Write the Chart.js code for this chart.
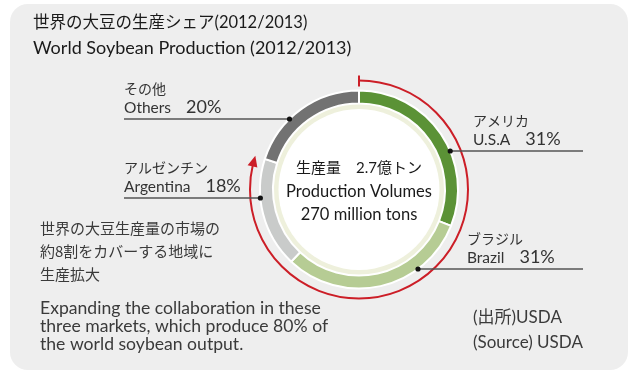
<!DOCTYPE html>
<html>
<head>
<meta charset="utf-8">
<script src="https://cdn.jsdelivr.net/npm/chart.js@4.4.0/dist/chart.umd.min.js"></script>
<style>
  html, body { margin: 0; padding: 0; background: #fff; }
  canvas { display: block; }
</style>
</head>
<body>
<canvas id="chart" width="629" height="372"></canvas>
<script>
// 生産シェア (USDA 2012/2013)
const regions = ['U.S.A', 'Brazil', 'Argentina', 'Others'];
const regionsJa = ['アメリカ', 'ブラジル', 'アルゼンチン', 'その他'];
const shares = [31, 31, 18, 20];
const sliceColors = ['#5b9236', '#b6cc94', '#c9cbca', '#727272'];
// 赤い矢印でくくる地域の数 (米・ブラジル・アルゼンチン)
const coveredCount = 3;

// ラベルの置き場所: テキスト左端x, 引き出し線のy, 左右
const labelSpots = [
  { x: 473, lineY: 151, side: 'right' },
  { x: 467, lineY: 269, side: 'right' },
  { x: 124, lineY: 198, side: 'left' },
  { x: 124, lineY: 119, side: 'left' }
];

const EN = 'Lato, "Noto Sans CJK JP", sans-serif';
const JP = '"Noto Sans CJK JP", sans-serif';

const OUTER_R = 99;
const INNER_R = 86;

// 背景パネル + 中央のクリーム色リング
const panelPlugin = {
  id: 'panel',
  beforeDraw(chart) {
    const ctx = chart.ctx;
    ctx.save();
    ctx.fillStyle = '#eeeeee';
    ctx.beginPath();
    ctx.roundRect(10, 4, 618, 366, 18);
    ctx.fill();
    ctx.restore();
  },
  beforeDatasetsDraw(chart) {
    const arc = chart.getDatasetMeta(0).data[0];
    const ctx = chart.ctx;
    ctx.save();
    ctx.fillStyle = '#eef0dc';
    ctx.beginPath();
    ctx.arc(arc.x, arc.y, arc.innerRadius, 0, Math.PI * 2);
    ctx.fill();
    ctx.fillStyle = '#ffffff';
    ctx.beginPath();
    ctx.arc(arc.x, arc.y, arc.innerRadius - 5.5, 0, Math.PI * 2);
    ctx.fill();
    ctx.restore();
  }
};

// 赤い矢印, 引き出し線, 文字
const overlayPlugin = {
  id: 'overlay',
  afterDraw(chart) {
    const ctx = chart.ctx;
    const meta = chart.getDatasetMeta(0);
    const first = meta.data[0];
    const cx = first.x, cy = first.y;
    const outerR = first.outerRadius;

    // 赤い弧
    const total = shares.reduce((a, b) => a + b, 0);
    const covered = shares.slice(0, coveredCount).reduce((a, b) => a + b, 0);
    const R = outerR + 10;
    const start = -Math.PI / 2;
    const end = start + Math.PI * 2 * covered / total;
    const headLen = 11;
    const baseAng = end - headLen / R;
    ctx.save();
    ctx.strokeStyle = '#cc1e27';
    ctx.fillStyle = '#cc1e27';
    ctx.lineWidth = 2;
    ctx.beginPath();
    ctx.arc(cx, cy, R, start, baseAng + 0.02);
    ctx.stroke();
    // 始点の目印
    ctx.beginPath();
    ctx.moveTo(cx, cy - R - 5);
    ctx.lineTo(cx, cy - R + 6);
    ctx.stroke();
    // 矢じり
    const tipX = cx + R * Math.cos(end), tipY = cy + R * Math.sin(end);
    const bx = cx + R * Math.cos(baseAng), by = cy + R * Math.sin(baseAng);
    const nx = Math.cos(baseAng), ny = Math.sin(baseAng);
    ctx.beginPath();
    ctx.moveTo(tipX, tipY);
    ctx.lineTo(bx + nx * 5, by + ny * 5);
    ctx.lineTo(bx - nx * 5, by - ny * 5);
    ctx.closePath();
    ctx.fill();
    ctx.restore();

    // 引き出し線とラベル
    const dotR = outerR;
    regions.forEach((name, i) => {
      const spot = labelSpots[i];
      const dy = spot.lineY - cy;
      const dx = Math.sqrt(Math.max(dotR * dotR - dy * dy, 0));
      const dotX = spot.side === 'right' ? cx + dx : cx - dx;

      ctx.save();
      ctx.strokeStyle = '#555';
      ctx.lineWidth = 1.5;
      ctx.beginPath();
      if (spot.side === 'right') {
        ctx.moveTo(dotX, spot.lineY);
        ctx.lineTo(583, spot.lineY);
      } else {
        ctx.moveTo(spot.x, spot.lineY);
        ctx.lineTo(dotX, spot.lineY);
      }
      ctx.stroke();
      ctx.fillStyle = '#111';
      ctx.beginPath();
      ctx.arc(dotX, spot.lineY, 2.6, 0, Math.PI * 2);
      ctx.fill();

      ctx.fillStyle = '#333';
      ctx.textAlign = 'left';
      ctx.textBaseline = 'middle';
      ctx.font = '14px ' + JP;
      ctx.fillText(regionsJa[i], spot.x, spot.lineY - 30);
      ctx.textBaseline = 'alphabetic';
      ctx.font = '15.5px ' + EN;
      ctx.fillText(name, spot.x, spot.lineY - 6);
      const w = ctx.measureText(name).width;
      ctx.font = '18px ' + EN;
      ctx.fillText(shares[i] + '%', spot.x + w + 15, spot.lineY - 6);
      ctx.restore();
    });

    // 中央の文字
    ctx.save();
    ctx.fillStyle = '#1a1a1a';
    ctx.textAlign = 'center';
    ctx.textBaseline = 'middle';
    ctx.font = '15px ' + EN;
    ctx.fillText('生産量　2.7億トン', cx, 168);
    ctx.font = '16.5px ' + EN;
    ctx.fillText('Production Volumes', cx, 192);
    ctx.fillText('270 million tons', cx, 215);
    ctx.restore();

    // タイトル
    ctx.save();
    ctx.fillStyle = '#1a1a1a';
    ctx.textAlign = 'left';
    ctx.textBaseline = 'middle';
    ctx.font = '16.5px ' + EN;
    ctx.fillText('世界の大豆の生産シェア(2012/2013)', 33, 23);
    ctx.font = '18px ' + EN;
    ctx.fillText('World Soybean Production (2012/2013)', 33, 48);

    // 左下の説明
    ctx.fillStyle = '#3a3a3a';
    ctx.font = '15px ' + JP;
    ctx.fillText('世界の大豆生産量の市場の', 40, 228);
    ctx.fillText('約8割をカバーする地域に', 40, 251);
    ctx.fillText('生産拡大', 40, 274);
    ctx.font = '17.6px ' + EN;
    ctx.fillText('Expanding the collaboration in these', 40, 308);
    ctx.fillText('three markets, which produce 80% of', 40, 326);
    ctx.fillText('the world soybean output.', 40, 344);

    // 出所
    ctx.font = '17px ' + EN;
    ctx.fillText('(出所)USDA', 473, 318);
    ctx.fillText('(Source) USDA', 473, 343);
    ctx.restore();
  }
};

new Chart(document.getElementById('chart'), {
  type: 'doughnut',
  data: {
    labels: regions,
    datasets: [{
      data: shares,
      backgroundColor: sliceColors,
      borderColor: '#ffffff',
      borderWidth: 2
    }]
  },
  options: {
    responsive: false,
    animation: false,
    radius: OUTER_R,
    cutout: (INNER_R / OUTER_R * 100) + '%',
    layout: { padding: { left: 89, top: 7, right: 0, bottom: 0 } },
    plugins: {
      legend: { display: false },
      tooltip: { enabled: false }
    }
  },
  plugins: [panelPlugin, overlayPlugin]
});
</script>
</body>
</html>
